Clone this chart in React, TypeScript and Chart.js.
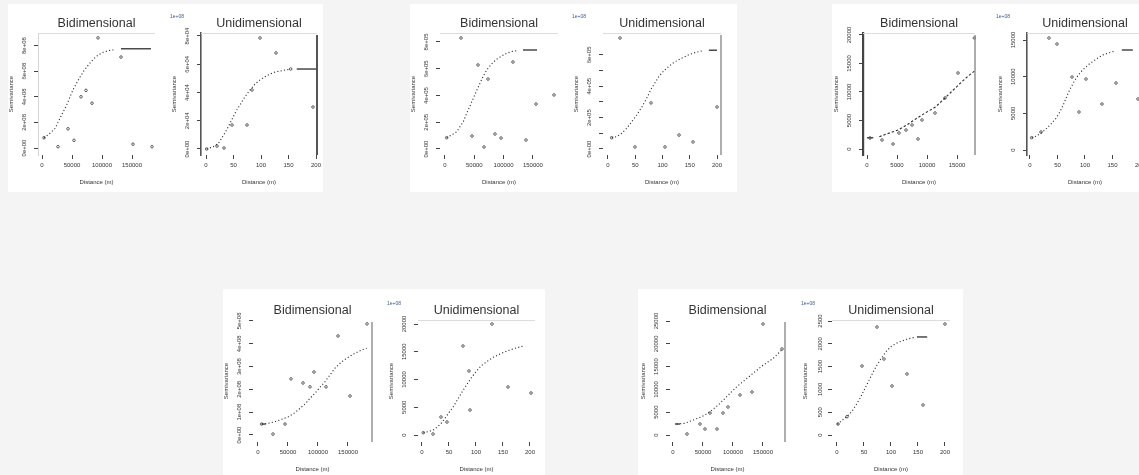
import React, { useEffect, useRef } from "react";
import { Chart, registerables } from "chart.js";

Chart.register(...registerables);
Chart.defaults.font.family = "'Liberation Sans', Arial, sans-serif";

type Pt = [number, number];

// Shared distance axes
const distBiTicks = [0, 50000, 100000, 150000];
const distBiShortTicks = [0, 5000, 10000, 15000];
const distUniTicks = [0, 50, 100, 150, 200];

// Site 1
const s1BiTicks = [0, 2e8, 4e8, 6e8, 8e8];
const s1BiPoints: Pt[] = [[3333, 0.8e8], [26667, 0.1e8], [43333, 1.5e8], [53333, 0.6e8], [65000, 4.0e8], [73333, 4.5e8], [83333, 3.5e8], [93333, 8.6e8], [131667, 7.1e8], [151667, 0.3e8], [183333, 0.1e8]];
const s1BiCurve: Pt[] = [[3333, 0.8e8], [13333, 1.15e8], [21667, 1.52e8], [30000, 2.32e8], [35500, 2.84e8], [41167, 3.36e8], [46667, 4.0e8], [52167, 4.59e8], [60500, 5.31e8], [68833, 5.96e8], [77167, 6.48e8], [85500, 6.93e8], [93833, 7.27e8], [102167, 7.48e8], [110500, 7.6e8], [118833, 7.66e8]];
const s1BiSill: Pt[] = [[131667, 7.75e8], [181667, 7.75e8]];

const s1UniTicks = [0, 2e4, 4e4, 6e4, 8e4];
const s1UniPoints: Pt[] = [[1.3, 0], [20, 0.21e4], [32.7, 0.07e4], [47.3, 1.7e4], [74.5, 1.7e4], [83.6, 4.18e4], [98.2, 7.86e4], [127.3, 6.8e4], [154, 5.66e4], [194.5, 2.97e4]];
const s1UniCurve: Pt[] = [[1.3, 0], [13.3, 0.163e4], [22.4, 0.4e4], [28.5, 0.76e4], [37.6, 1.35e4], [43.6, 1.82e4], [49.6, 2.29e4], [55.8, 2.76e4], [61.8, 3.12e4], [70.9, 3.7e4], [80, 4.18e4], [89.1, 4.6e4], [98.2, 4.89e4], [107.3, 5.12e4], [116.4, 5.31e4], [125.5, 5.45e4], [137.6, 5.54e4], [154, 5.66e4]];
const s1UniSill: Pt[] = [[165, 5.66e4], [201, 5.66e4]];

// Site 2
const s2BiTicks = [0, 2e5, 4e5, 6e5, 8e5];
const s2BiPoints: Pt[] = [[2900, 0.845e5], [27300, 8.3e5], [46100, 0.97e5], [56300, 6.28e5], [66600, 0.15e5], [73400, 5.23e5], [85300, 1.12e5], [95600, 0.82e5], [116000, 6.5e5], [138200, 0.67e5], [155300, 3.36e5], [186000, 4.04e5]];
const s2BiCurve: Pt[] = [[2900, 0.845e5], [11400, 1.05e5], [20000, 1.29e5], [25600, 1.67e5], [31300, 2.04e5], [37000, 2.67e5], [42700, 3.21e5], [48300, 3.79e5], [54000, 4.36e5], [59700, 4.91e5], [65300, 5.46e5], [72100, 5.96e5], [79600, 6.36e5], [88100, 6.71e5], [96700, 6.95e5], [105200, 7.16e5], [113800, 7.28e5], [122300, 7.35e5]];
const s2BiSill: Pt[] = [[133100, 7.4e5], [157000, 7.4e5]];

const s2UniTicks = [0, 1e5, 2e5, 3e5, 4e5, 5e5, 6e5];
const s2UniPoints: Pt[] = [[6.8, 0.72e5], [22, 7.08e5], [49.5, 0.13e5], [78.9, 2.94e5], [104.6, 0.13e5], [130.3, 0.89e5], [156, 0.45e5], [200, 2.68e5]];
const s2UniCurve: Pt[] = [[6.8, 0.72e5], [16, 0.785e5], [25.1, 1.0e5], [34.3, 1.32e5], [43.5, 1.74e5], [52.7, 2.17e5], [61.8, 2.66e5], [71, 3.24e5], [78.3, 3.77e5], [86.2, 4.23e5], [94.1, 4.66e5], [102.8, 5.0e5], [112.5, 5.3e5], [122.9, 5.57e5], [135.2, 5.79e5], [147.3, 6.0e5], [159.6, 6.15e5], [171.9, 6.25e5]];
const s2UniSill: Pt[] = [[185, 6.3e5], [200, 6.3e5]];

// Site 3
const s3BiTicks = [0, 5000, 10000, 15000, 20000];
const s3BiPoints: Pt[] = [[500, 1930], [2500, 1579], [4333, 877], [5333, 2807], [6500, 3333], [7500, 4210], [8500, 1754], [9167, 5087], [11333, 6315], [13000, 8950], [15167, 13330], [17900, 19470]];
const s3BiCurve: Pt[] = [[2050, 2157], [3500, 2720], [5217, 3333], [6750, 4297], [8283, 5385], [9833, 6402], [11333, 7314], [12833, 8770], [14383, 10350], [15500, 11490], [16617, 12576], [18000, 13734]];
const s3BiSill: Pt[] = [[0, 1980], [1050, 1980]];

const s3UniTicks = [0, 5000, 10000, 15000];
const s3UniPoints: Pt[] = [[3.1, 1678], [20, 2455], [34.5, 15273], [49.1, 14455], [76.4, 9955], [89.1, 5182], [101.8, 9682], [130.9, 6273], [156.4, 9136], [196.4, 6955]];
const s3UniCurve: Pt[] = [[3.1, 1678], [12.2, 1910], [21.3, 2360], [30.4, 2960], [39.5, 3642], [47.3, 4324], [54.5, 5224], [60.5, 6138], [66.7, 7270], [72.7, 8280], [80, 9316], [87.8, 10230], [96.9, 11007], [107.8, 11730], [120, 12371], [132.2, 12958], [144.2, 13272], [154.5, 13504]];
const s3UniSill: Pt[] = [[167, 13640], [187, 13640]];

// Site 4
const s4BiTicks = [0, 1e8, 2e8, 3e8, 4e8, 5e8];
const s4BiPoints: Pt[] = [[6167, 0.48e8], [25000, 0.04e8], [45000, 0.48e8], [55000, 2.46e8], [75000, 2.28e8], [86667, 2.11e8], [93333, 2.76e8], [113333, 2.11e8], [133333, 4.34e8], [153333, 1.71e8], [181667, 4.87e8]];
const s4BiCurve: Pt[] = [[6167, 0.48e8], [17167, 0.51e8], [28333, 0.58e8], [39500, 0.69e8], [50500, 0.8e8], [61667, 0.98e8], [70000, 1.17e8], [78333, 1.36e8], [86667, 1.61e8], [95000, 1.83e8], [103333, 2.09e8], [111667, 2.34e8], [120000, 2.63e8], [128333, 2.93e8], [139500, 3.21e8], [150500, 3.41e8], [161667, 3.58e8], [172833, 3.73e8], [181167, 3.8e8]];
const s4BiSill: Pt[] = [[6167, 0.48e8], [12833, 0.48e8]];

const s4UniTicks = [0, 5000, 10000, 15000, 20000];
const s4UniPoints: Pt[] = [[2.4, 414], [20.4, 180], [35.2, 3243], [46.3, 2342], [75.9, 16036], [87, 11532], [88.9, 4505], [129.6, 20000], [159.3, 8649], [201.9, 7568]];
const s4UniCurve: Pt[] = [[2.4, 414], [11.7, 595], [20.9, 901], [29.1, 1496], [36.5, 2216], [42.6, 3009], [48.7, 3910], [56.1, 4811], [62.4, 5820], [69.1, 6902], [76.5, 8109], [84.6, 9316], [92, 10398], [100, 11407], [109.3, 12434], [119.8, 13209], [132, 14001], [144.4, 14596], [158.7, 15191], [172.2, 15623], [187.6, 16038]];

// Site 5
const s5BiTicks = [0, 5000, 10000, 15000, 20000, 25000];
const s5BiPoints: Pt[] = [[23333, 219], [45000, 2412], [53333, 1316], [61667, 4825], [73333, 1316], [83333, 4825], [91667, 6140], [111667, 8772], [131667, 9430], [150000, 24342], [181667, 18860]];
const s5BiCurve: Pt[] = [[6167, 2412], [20000, 2566], [33833, 3290], [47833, 4013], [61667, 5110], [75500, 6579], [89500, 8399], [106167, 10592], [120000, 12062], [136667, 13882], [150500, 15351], [167167, 16820], [181167, 18641]];
const s5BiSill: Pt[] = [[3333, 2412], [11667, 2412]];

const s5UniTicks = [0, 500, 1000, 1500, 2000, 2500];
const s5UniPoints: Pt[] = [[1.9, 241], [18.5, 401], [46.3, 1513], [74.1, 2368], [87, 1667], [101.9, 1075], [129.6, 1338], [159.3, 658], [200, 2434]];
const s5UniCurve: Pt[] = [[0.6, 235], [17.9, 401], [27.2, 511], [35.2, 658], [42.6, 805], [48.7, 950], [56.1, 1125], [64.3, 1316], [72.2, 1498], [80.9, 1660], [90.7, 1827], [101.3, 1952], [113.5, 2033], [129, 2099], [144.4, 2143]];
const s5UniSill: Pt[] = [[148, 2150], [167, 2150]];

const BI = "Bidimensional";
const UNI = "Unidimensional";
const NOTE = "1e+08";

type Line = { color: string; width: number } | null;
type Panel = {
  title: string;
  box: [number, number, number, number];
  xMin: number; xMax: number; yMin: number; yMax: number;
  xTicks: number[]; yTicks: number[];
  sci: boolean; labelEvery?: number;
  points: Pt[]; curve: Pt[]; sill?: Pt[];
  dash?: number[];
  leftLine: Line; rightLine: Line; topLine: boolean;
  note?: string;
};

const panels: Panel[] = [
  { title: BI, box: [38, 33, 155, 155], xMin: -6667, xMax: 188333, yMin: -0.546e8, yMax: 8.98e8, xTicks: distBiTicks, yTicks: s1BiTicks, sci: true, points: s1BiPoints, curve: s1BiCurve, sill: s1BiSill, leftLine: { color: "#d4d4d4", width: 1 }, rightLine: null, topLine: true },
  { title: UNI, box: [201, 33, 317, 155], xMin: -9.1, xMax: 201.8, yMin: -0.425e4, yMax: 8.21e4, xTicks: distUniTicks, yTicks: s1UniTicks, sci: true, points: s1UniPoints, curve: s1UniCurve, sill: s1UniSill, leftLine: { color: "#555", width: 1.6 }, rightLine: { color: "#555", width: 2 }, topLine: true, note: NOTE },
  { title: BI, box: [440, 33, 558, 155], xMin: -8532, xMax: 192835, yMin: -0.449e5, yMax: 8.67e5, xTicks: distBiTicks, yTicks: s2BiTicks, sci: true, points: s2BiPoints, curve: s2BiCurve, sill: s2BiSill, leftLine: null, rightLine: null, topLine: true },
  { title: UNI, box: [603, 33, 721, 155], xMin: -9.17, xMax: 207.3, yMin: -0.383e5, yMax: 7.4e5, xTicks: distUniTicks, yTicks: s2UniTicks, sci: true, labelEvery: 2, points: s2UniPoints, curve: s2UniCurve, sill: s2UniSill, leftLine: null, rightLine: { color: "#9a9a9a", width: 1.6 }, topLine: true, note: NOTE },
  { title: BI, box: [863, 33, 975, 155], xMin: -667, xMax: 18000, yMin: -1052, yMax: 20346, xTicks: distBiShortTicks, yTicks: s3BiTicks, sci: false, points: s3BiPoints, curve: s3BiCurve, sill: s3BiSill, dash: [2.4, 2], leftLine: { color: "#444", width: 2.2 }, rightLine: { color: "#8a8a8a", width: 1.4 }, topLine: true },
  { title: UNI, box: [1027, 33, 1143, 155], xMin: -5.45, xMax: 205.5, yMin: -682, yMax: 15959, xTicks: distUniTicks, yTicks: s3UniTicks, sci: false, points: s3UniPoints, curve: s3UniCurve, sill: s3UniSill, leftLine: { color: "#555", width: 1.6 }, rightLine: null, topLine: true, note: NOTE },
  { title: BI, box: [253, 320, 372, 442], xMin: -8333, xMax: 190000, yMin: -0.307e8, yMax: 5.04e8, xTicks: distBiTicks, yTicks: s4BiTicks, sci: true, points: s4BiPoints, curve: s4BiCurve, sill: s4BiSill, leftLine: null, rightLine: { color: "#9a9a9a", width: 1.6 }, topLine: false },
  { title: UNI, box: [418, 320, 535, 442], xMin: -7.4, xMax: 209.3, yMin: -1261, yMax: 20723, xTicks: distUniTicks, yTicks: s4UniTicks, sci: false, points: s4UniPoints, curve: s4UniCurve, leftLine: null, rightLine: null, topLine: true, note: NOTE },
  { title: BI, box: [670, 320, 785, 442], xMin: -5000, xMax: 186667, yMin: -1535, yMax: 25220, xTicks: distBiTicks, yTicks: s5BiTicks, sci: false, points: s5BiPoints, curve: s5BiCurve, sill: s5BiSill, leftLine: null, rightLine: { color: "#9a9a9a", width: 1.6 }, topLine: false },
  { title: UNI, box: [832, 320, 950, 442], xMin: -9.26, xMax: 209.3, yMin: -153.5, yMax: 2522, xTicks: distUniTicks, yTicks: s5UniTicks, sci: false, points: s5UniPoints, curve: s5UniCurve, sill: s5UniSill, leftLine: null, rightLine: null, topLine: true, note: NOTE },
];

const cards = [
  { left: 8, top: 4, width: 315, height: 188 },
  { left: 410, top: 4, width: 327, height: 188 },
  { left: 832, top: 4, width: 320, height: 188 },
  { left: 223, top: 289, width: 322, height: 200 },
  { left: 638, top: 289, width: 325, height: 200 },
];

const AXW = 32;
const TOPPAD = 26;
const XAH = 34;
const RPAD = 8;
const INK = "#333";

const sciLabel = (v: number) => {
  if (v === 0) return "0e+00";
  const e = Math.floor(Math.log10(Math.abs(v)) + 1e-9);
  const m = Math.round(v / Math.pow(10, e));
  return `${m}e+${String(e).padStart(2, "0")}`;
};

// Frame lines, centred panel title and the small scale note
const decor = {
  id: "decor",
  afterDraw(chart: any, _args: any, opts: any) {
    const { ctx, chartArea: a } = chart;
    ctx.save();
    if (opts.topLine) {
      ctx.strokeStyle = "#dcdcdc";
      ctx.lineWidth = 1;
      ctx.beginPath();
      ctx.moveTo(a.left, a.top + 0.5);
      ctx.lineTo(a.right, a.top + 0.5);
      ctx.stroke();
    }
    if (opts.rightLine) {
      ctx.strokeStyle = opts.rightLine.color;
      ctx.lineWidth = opts.rightLine.width;
      ctx.beginPath();
      ctx.moveTo(a.right, a.top + 2);
      ctx.lineTo(a.right, a.bottom);
      ctx.stroke();
    }
    ctx.fillStyle = INK;
    ctx.font = "12.5px 'Liberation Sans', Arial, sans-serif";
    ctx.textAlign = "center";
    ctx.textBaseline = "middle";
    ctx.fillText(opts.title, (a.left + a.right) / 2, a.top - 9.5);
    if (opts.note) {
      ctx.fillStyle = "#3d5a9a";
      ctx.font = "5px 'Liberation Sans', Arial, sans-serif";
      ctx.textAlign = "left";
      ctx.fillText(opts.note, a.left - 31, a.top - 16);
    }
    ctx.restore();
  },
};

const toXY = (arr: Pt[]) => arr.map(([x, y]) => ({ x, y }));

function VariogramPlot({ p }: { p: Panel }) {
  const ref = useRef<HTMLCanvasElement>(null);
  const [l, t, r, b] = p.box;
  const w = r - l + AXW + RPAD;
  const h = b - t + TOPPAD + XAH;

  useEffect(() => {
    if (!ref.current) return;
    const datasets: any[] = [
      {
        data: toXY(p.curve),
        showLine: true,
        borderColor: "#2a2a2a",
        borderWidth: 1.1,
        borderDash: p.dash ?? [1.1, 2.3],
        pointRadius: 0,
        clip: false,
      },
    ];
    if (p.sill) {
      datasets.push({
        data: toXY(p.sill),
        showLine: true,
        borderColor: "#4a4a4a",
        borderWidth: 1.5,
        pointRadius: 0,
        clip: false,
      });
    }
    datasets.push({
      data: toXY(p.points),
      showLine: false,
      pointRadius: 1.3,
      pointBorderWidth: 0.8,
      pointBorderColor: "#3a3a3a",
      pointBackgroundColor: "rgba(0,0,0,0)",
      clip: false,
    });

    const chart = new Chart(ref.current, {
      type: "scatter",
      data: { datasets },
      plugins: [decor as any],
      options: {
        animation: false,
        responsive: false,
        maintainAspectRatio: false,
        events: [],
        layout: { padding: { top: TOPPAD, right: RPAD, left: 0, bottom: 0 } },
        plugins: {
          legend: { display: false },
          tooltip: { enabled: false },
          title: { display: false },
          decor: { title: p.title, topLine: p.topLine, rightLine: p.rightLine, note: p.note },
        } as any,
        scales: {
          x: {
            type: "linear",
            min: p.xMin,
            max: p.xMax,
            afterBuildTicks: (s: any) => {
              s.ticks = p.xTicks.map((v) => ({ value: v }));
            },
            afterFit: (s: any) => {
              s.height = XAH;
            },
            border: { display: false },
            grid: { drawOnChartArea: false, drawTicks: true, tickLength: 4, color: "#444" },
            ticks: {
              autoSkip: false,
              maxRotation: 0,
              minRotation: 0,
              padding: 3,
              color: INK,
              font: { size: 6 },
              callback: (v: any) => String(v),
            },
            title: {
              display: true,
              text: "Distance (m)",
              color: INK,
              font: { size: 6 },
              padding: { top: 0, bottom: 3.4 },
            },
          },
          y: {
            type: "linear",
            min: p.yMin,
            max: p.yMax,
            afterBuildTicks: (s: any) => {
              s.ticks = p.yTicks.map((v) => ({ value: v }));
            },
            afterFit: (s: any) => {
              s.width = AXW;
            },
            border: p.leftLine
              ? { display: true, color: p.leftLine.color, width: p.leftLine.width }
              : { display: false },
            grid: { drawOnChartArea: false, drawTicks: true, tickLength: 4, color: "#444" },
            ticks: {
              autoSkip: false,
              minRotation: 90,
              maxRotation: 90,
              crossAlign: "center",
              padding: 1,
              color: INK,
              font: { size: 6 },
              callback: (v: any, i: number) => {
                if (p.labelEvery && i % p.labelEvery !== 0) return "";
                return p.sci ? sciLabel(Number(v)) : String(v);
              },
            },
            title: {
              display: true,
              text: "Semivariance",
              color: INK,
              font: { size: 6 },
              padding: { top: 2, bottom: 0 },
            },
          },
        },
      } as any,
    });
    return () => chart.destroy();
  }, [p]);

  return (
    <canvas
      ref={ref}
      width={w}
      height={h}
      style={{ position: "absolute", left: l - AXW, top: t - TOPPAD, width: w, height: h }}
    />
  );
}

export default function App() {
  return (
    <div
      style={{
        position: "fixed",
        inset: 0,
        background: "#f4f4f4",
        overflow: "hidden",
        fontFamily: "'Liberation Sans', Arial, sans-serif",
      }}
    >
      {cards.map((c, i) => (
        <div
          key={i}
          style={{ position: "absolute", left: c.left, top: c.top, width: c.width, height: c.height, background: "#fff" }}
        />
      ))}
      {panels.map((p, i) => (
        <VariogramPlot key={i} p={p} />
      ))}
    </div>
  );
}
